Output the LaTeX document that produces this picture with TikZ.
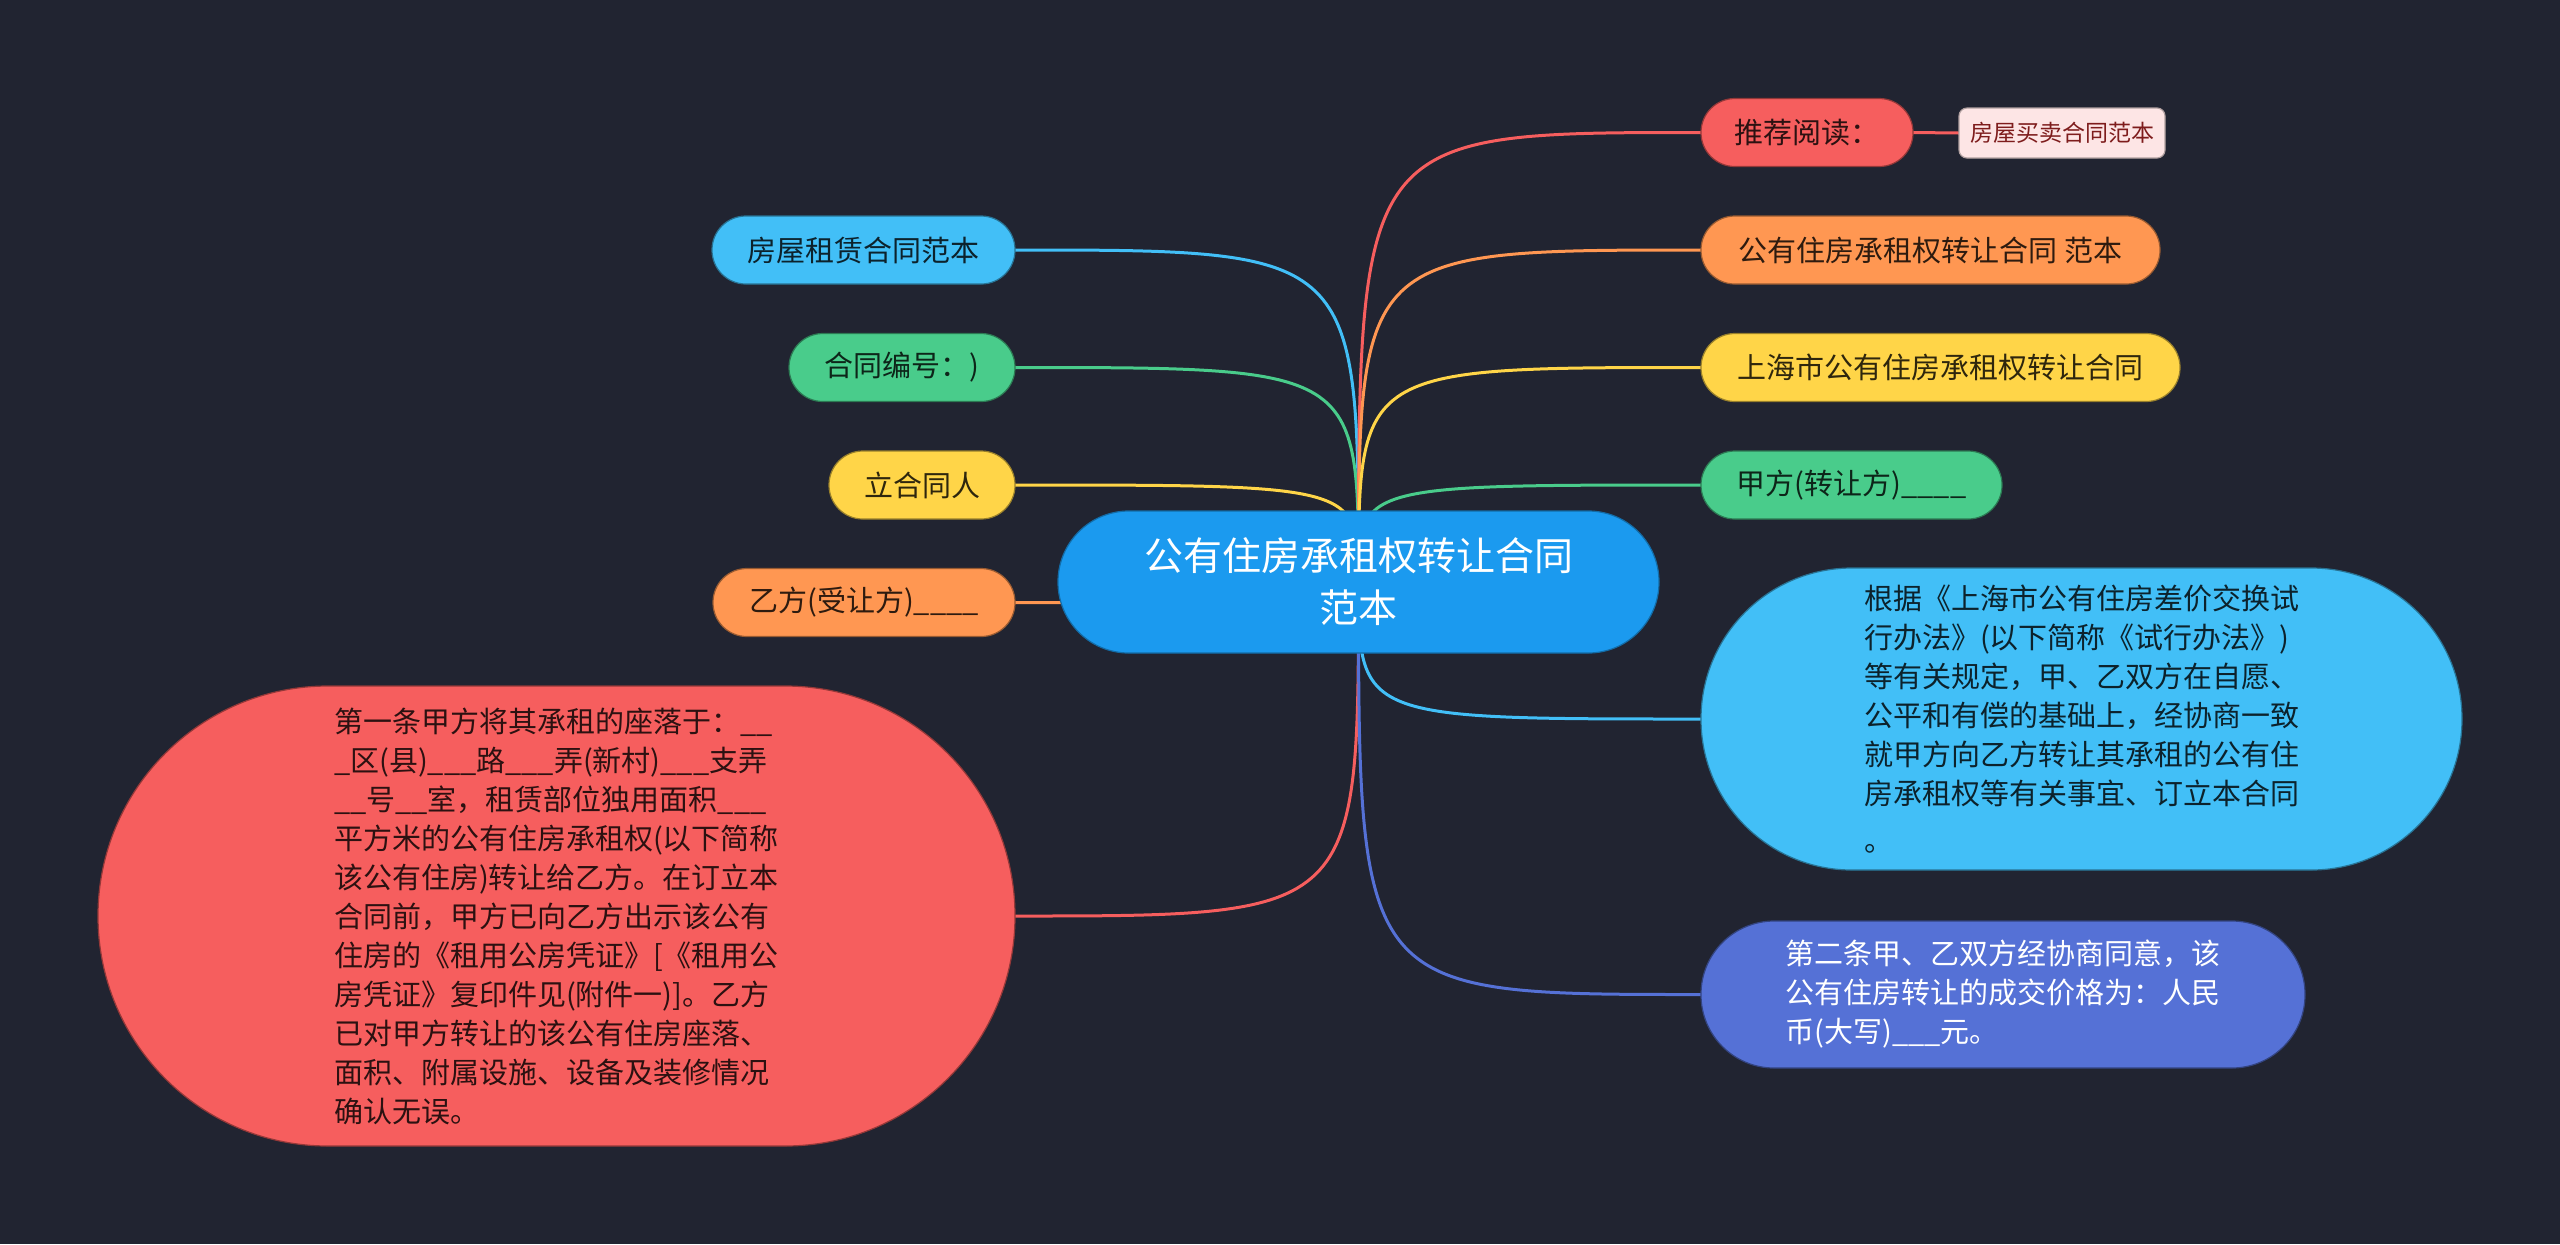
\documentclass[tikz,border=0pt]{standalone}
\usepackage{fontspec}
\setmainfont{Noto Sans CJK SC}
\definecolor{cBg}{HTML}{212431}
\definecolor{cCenter}{HTML}{1B9AEF}
\definecolor{cSky}{HTML}{42BFF7}
\definecolor{cGreen}{HTML}{49CC8B}
\definecolor{cYellow}{HTML}{FFD548}
\definecolor{cOrange}{HTML}{FF9752}
\definecolor{cRed}{HTML}{F65E5E}
\definecolor{cIndigo}{HTML}{5571D6}
\definecolor{cPink}{HTML}{FDE5E5}
\definecolor{cPinkText}{HTML}{7E1C1C}
\pgfdeclarelayer{background}
\pgfsetlayers{background,main}
\tikzset{
  base/.style={inner sep=0pt, outer sep=0pt, align=center, font=\fontsize{14.5pt}{19.5pt}\selectfont},
  pill/.style={base, fill=#1, draw=#1!60!black, line width=0.6pt, text=#1!18!black, rounded corners=16.9pt, minimum height=34pt},
  conn/.style={line width=1.5pt, draw=#1},
}
\begin{document}
\begin{tikzpicture}[x=0.5pt,y=-0.5pt]
\useasboundingbox (0,0) rectangle (2560,1244);
% central topic
\node[base, fill=cCenter, draw=cCenter!70!black, line width=0.6pt, text=white,
      minimum width=300.5pt, minimum height=71pt, rounded corners=35.4pt,
      font=\fontsize{19.5pt}{26pt}\selectfont] (c) at (1358.5,582) {公有住房承租权转让合同\\范本};
% left branches
\node[pill=cSky, minimum width=151.5pt] (n1) at (863.5,250) {房屋租赁合同范本};
\node[pill=cGreen, minimum width=113pt] (n2) at (902,367.5) {合同编号：)};
\node[pill=cYellow, minimum width=93pt] (n3) at (922,485) {立合同人};
\node[pill=cOrange, minimum width=151pt] (n4) at (864,602.5) {乙方(受让方)\_\_\_\_};
\node[pill=cRed, minimum width=458.5pt, minimum height=230pt, rounded corners=114.9pt, align=left] (n5) at (556.5,916)
  {第一条甲方将其承租的座落于：\_\_\\
   \_区(县)\_\_\_路\_\_\_弄(新村)\_\_\_支弄\\
   \_\_号\_\_室，租赁部位独用面积\_\_\_\\
   平方米的公有住房承租权(以下简称\\
   该公有住房)转让给乙方。在订立本\\
   合同前，甲方已向乙方出示该公有\\
   住房的《租用公房凭证》[《租用公\\
   房凭证》复印件见(附件一)]。乙方\\
   已对甲方转让的该公有住房座落、\\
   面积、附属设施、设备及装修情况\\
   确认无误。};
% right branches
\node[pill=cRed, minimum width=106pt] (r1) at (1807,132.5) {推荐阅读：};
\node[base, fill=cPink, draw=cPink!70!black, line width=0.6pt, text=cPinkText, rounded corners=4pt,
      minimum width=103pt, minimum height=25pt, font=\fontsize{11.5pt}{14pt}\selectfont] (r1a) at (2062,133) {房屋买卖合同范本};
\node[pill=cOrange, minimum width=229.5pt] (r2) at (1930.5,250) {公有住房承租权转让合同 范本};
\node[pill=cYellow, minimum width=239.5pt] (r3) at (1940.5,367.5) {上海市公有住房承租权转让合同};
\node[pill=cGreen, minimum width=150.5pt] (r4) at (1851.5,485) {甲方(转让方)\_\_\_\_};
\node[pill=cSky, minimum width=380.5pt, minimum height=151pt, rounded corners=75.4pt, align=left] (r5) at (2081.5,719)
  {根据《上海市公有住房差价交换试\\
   行办法》(以下简称《试行办法》)\\
   等有关规定，甲、乙双方在自愿、\\
   公平和有偿的基础上，经协商一致\\
   就甲方向乙方转让其承租的公有住\\
   房承租权等有关事宜、订立本合同\\[4pt]
   。};
\node[base, fill=cIndigo, draw=cIndigo!60!black, line width=0.6pt, text=white,
      minimum width=302pt, minimum height=73.5pt, rounded corners=36.6pt, align=left] (r6) at (2003,994.5)
  {第二条甲、乙双方经协商同意，该\\
   公有住房转让的成交价格为：人民\\
   币(大写)\_\_\_元。};
\begin{pgfonlayer}{background}
  \fill[cBg] (0,0) rectangle (2560,1244);
  \foreach \n/\col in {n1/cSky, n2/cGreen, n3/cYellow, n4/cOrange, n5/cRed}
    \draw[conn=\col] (c.center) .. controls (c.center |- \n.east) .. (\n.east);
  \foreach \n/\col in {r1/cRed, r2/cOrange, r3/cYellow, r4/cGreen, r5/cSky, r6/cIndigo}
    \draw[conn=\col] (c.center) .. controls (c.center |- \n.west) .. (\n.west);
  \draw[conn=cRed] (r1.east) -- (r1a.west);
\end{pgfonlayer}
\end{tikzpicture}
\end{document}
